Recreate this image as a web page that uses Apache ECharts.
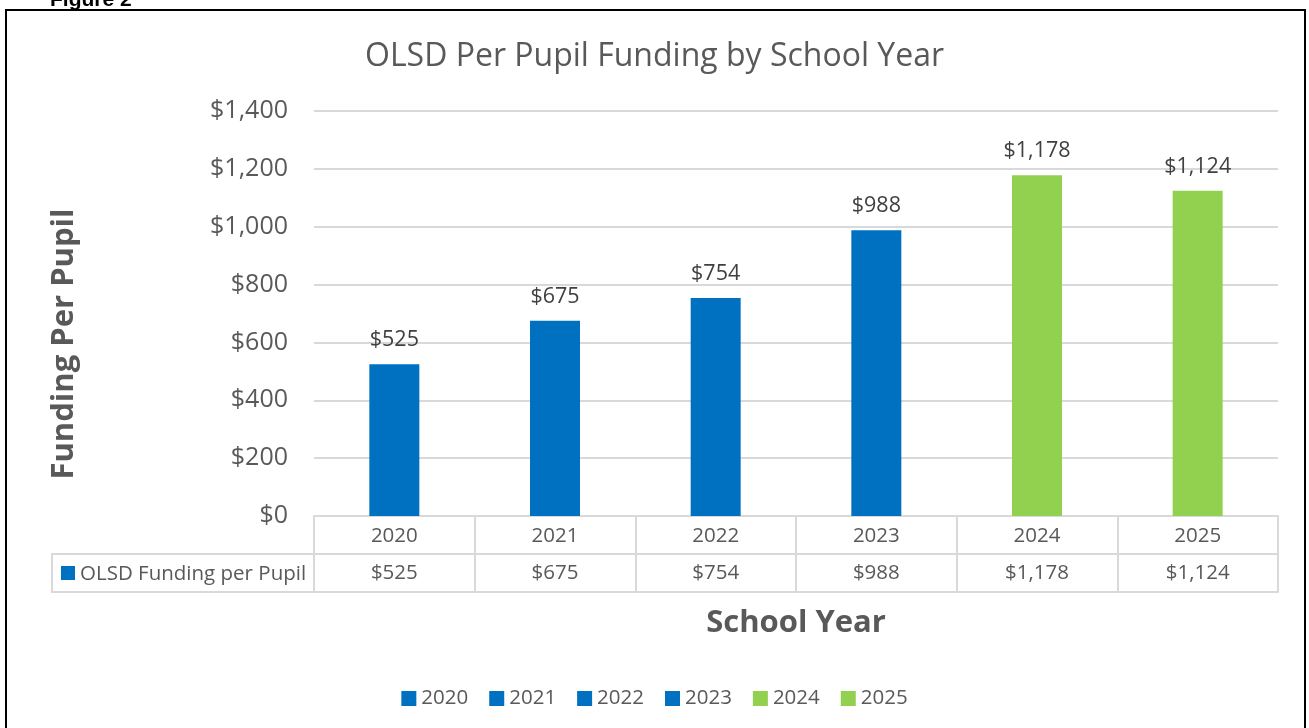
<!DOCTYPE html>
<html>
<head>
<meta charset="utf-8">
<script src="https://cdn.jsdelivr.net/npm/echarts@6/dist/echarts.min.js"></script>
<style>
  html, body { margin: 0; padding: 0; background: #fff; }
  #chart { width: 1309px; height: 728px; }
</style>
</head>
<body>
<div id="chart"></div>
<script>
const years = ['2020', '2021', '2022', '2023', '2024', '2025'];
const funding = [525, 675, 754, 988, 1178, 1124];
const barColors = ['#0070C0', '#0070C0', '#0070C0', '#0070C0', '#92D050', '#92D050'];
const yTicks = [0, 200, 400, 600, 800, 1000, 1200, 1400];

const FONT = 'Open Sans';
const GREY = '#595959';
const LINE = '#d9d9d9';

function money(v) {
    return '$' + Number(v).toLocaleString('en-US');
}

document.addEventListener('DOMContentLoaded', function() {
    const chart = echarts.init(document.getElementById('chart'), null, { renderer: 'canvas' });

    // one series per year so each gets its own legend entry
    const series = years.map((y, i) => ({
        name: y,
        type: 'bar',
        stack: 'all',
        barWidth: 50,
        itemStyle: { color: barColors[i] },
        label: {
            show: true,
            position: 'top',
            distance: 13,
            fontFamily: FONT,
            fontSize: 21.5,
            color: '#404040',
            formatter: p => money(p.value)
        },
        data: funding.map((v, j) => (j === i ? v : '-'))
    }));

    const option = {
        animation: false,
        backgroundColor: '#fff',
        textStyle: { fontFamily: FONT },
        title: {
            text: 'OLSD Per Pupil Funding by School Year',
            left: 'center',
            top: 36,
            textStyle: { fontFamily: FONT, fontSize: 32, fontWeight: 'normal', color: GREY }
        },
        legend: {
            bottom: 14,
            left: 'center',
            icon: 'rect',
            itemWidth: 15,
            itemHeight: 15,
            itemGap: 21,
            itemStyle: { borderWidth: 0 },
            textStyle: { fontFamily: FONT, fontSize: 20.5, color: GREY },
            data: years
        },
        grid: { left: 314, right: 31, top: 111, bottom: 212 },
        xAxis: [{
            type: 'category',
            data: years,
            position: 'bottom',
            axisLine: { show: true, lineStyle: { color: LINE, width: 2 } },
            axisTick: { show: true, length: 76, lineStyle: { color: LINE, width: 2 } },
            axisLabel: { fontFamily: FONT, fontSize: 20.5, color: GREY, margin: 10 }
        }, {
            type: 'category',
            data: years,
            position: 'bottom',
            offset: 38,
            axisLine: { show: true, lineStyle: { color: LINE, width: 2 } },
            axisTick: { show: false },
            axisLabel: {
                fontFamily: FONT, fontSize: 20.5, color: GREY, margin: 9,
                formatter: (v, i) => money(funding[i])
            }
        }, {
            type: 'category',
            data: years,
            position: 'bottom',
            offset: 76,
            axisLine: { show: true, lineStyle: { color: LINE, width: 2 } },
            axisTick: { show: false },
            axisLabel: { show: false },
            name: 'School Year',
            nameLocation: 'middle',
            nameGap: 16,
            nameTextStyle: { fontFamily: FONT, fontSize: 31, fontWeight: 'bold', color: GREY, verticalAlign: 'top' }
        }],
        yAxis: {
            type: 'value',
            min: yTicks[0],
            max: yTicks[yTicks.length - 1],
            interval: 200,
            axisLine: { show: false },
            axisTick: { show: false },
            splitLine: { lineStyle: { color: LINE, width: 2 } },
            axisLabel: { fontFamily: FONT, fontSize: 25, color: GREY, margin: 26, formatter: v => money(v) }
        },
        graphic: [
            // outer frame
            { type: 'rect', shape: { x: 6, y: 10, width: 1299, height: 740 }, style: { fill: null, stroke: '#000', lineWidth: 2 }, silent: true },
            { type: 'text', left: 50, top: -10, style: { text: 'Figure 2', font: 'bold 21px "Liberation Sans", Arial', fill: '#000' } },
            // y axis title, centred on the plot plus table
            {
                type: 'text', x: 64, y: 344, rotation: Math.PI / 2,
                style: { text: 'Funding Per Pupil', fontFamily: FONT, fontSize: 31, fontWeight: 'bold', fill: GREY, align: 'center', verticalAlign: 'middle' }
            },
            // data table legend cell
            { type: 'rect', shape: { x: 52, y: 554, width: 262, height: 38 }, style: { fill: null, stroke: LINE, lineWidth: 2 } },
            { type: 'rect', shape: { x: 61, y: 566, width: 14, height: 14 }, style: { fill: barColors[0] } },
            { type: 'text', x: 80, y: 574, style: { text: 'OLSD Funding per Pupil', fontFamily: FONT, fontSize: 20.5, fill: GREY, verticalAlign: 'middle' } }
        ],
        series: series
    };

    chart.setOption(option);

    window.addEventListener('resize', function() {
        chart.resize();
    });
});
</script>
</body>
</html>
